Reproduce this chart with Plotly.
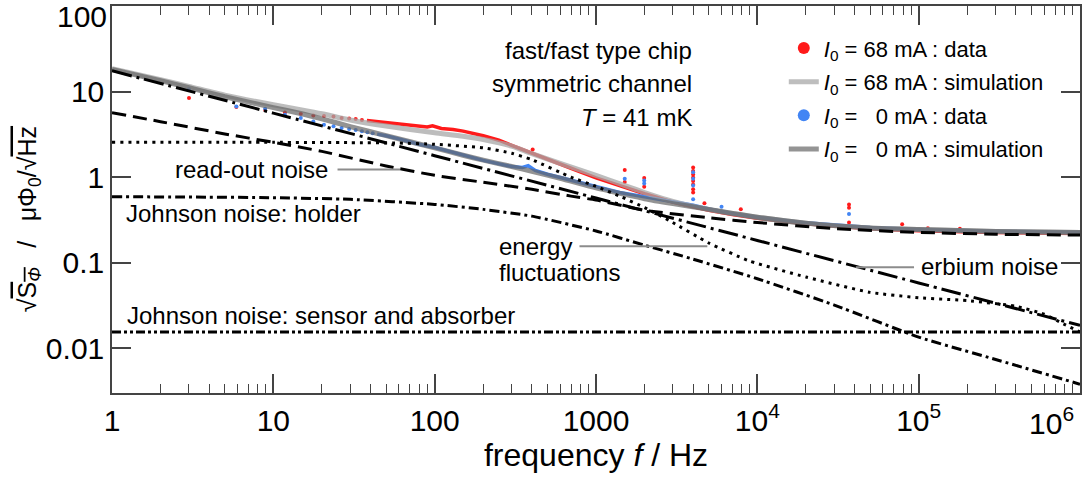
import numpy as np
import plotly.graph_objects as go

# ---------------- data ----------------
# noise contributions
readout_f = [1, 2, 5, 10, 20, 50, 100, 200, 400, 700, 1000, 2000, 5000, 1e4, 3e4, 1e5, 3e5, 1e6]
readout_v = [5.65, 4.45, 3.2, 2.55, 2.0, 1.35, 1.05, 0.87, 0.72, 0.6, 0.54, 0.41, 0.335, 0.295, 0.25, 0.226, 0.215, 0.21]

erbium_f = [1, 10, 100, 1000, 1e4, 1e5, 1e6]
erbium_v = [17.5, 5.6, 1.78, 0.57, 0.182, 0.058, 0.0185]

holder_f = [1, 3, 10, 30, 100, 200, 400, 1000, 2000, 4000, 1e4, 3e4, 1e5, 3e5, 1e6]
holder_v = [0.59, 0.585, 0.575, 0.55, 0.48, 0.42, 0.35, 0.235, 0.16, 0.11, 0.065, 0.032, 0.0135, 0.0074, 0.0038]

sensor_f = [1, 1e6]
sensor_v = [0.0155, 0.0155]

energy_f = [1, 10, 30, 60, 100, 200, 300, 400, 700, 1000, 1400, 2000, 2850, 5000, 8900, 2e4, 5e4, 1e5, 2e5, 4e5, 6e5, 8e5, 1e6]
energy_v = [2.55, 2.55, 2.53, 2.5, 2.42, 2.2, 1.9, 1.6, 1.0, 0.78, 0.6, 0.44, 0.31, 0.17, 0.105, 0.068, 0.045, 0.039, 0.036, 0.031, 0.025, 0.019, 0.0155]

# simulations
sim_f = [1, 2, 3, 5, 10, 15, 20, 30, 50, 100, 150, 200, 300, 400, 600, 1000, 1500, 2000, 3000, 5000, 1e4, 2e4, 5e4, 1e5, 3e5, 1e6]
sim68_v = [18.5, 13.8, 11.5, 9.1, 7.0, 6.1, 5.5, 4.65, 3.95, 3.3, 3.0, 2.75, 2.3, 1.88, 1.45, 1.05, 0.8, 0.66, 0.52, 0.42, 0.34, 0.29, 0.255, 0.244, 0.232, 0.225]
sim0_v = [18.2, 13.4, 11.1, 8.7, 6.5, 5.5, 4.8, 3.9, 3.05, 2.2, 1.8, 1.58, 1.33, 1.17, 0.97, 0.75, 0.63, 0.56, 0.49, 0.42, 0.34, 0.29, 0.255, 0.244, 0.232, 0.225]

# measured data, I0 = 68 mA
red_sparse_f = [3, 5.9, 8.9, 11.8, 14.8, 17.7, 20.6, 23.6, 26.5, 29.5, 32.4, 35.4]
red_sparse_v = [8.4, 6.6, 6.1, 5.7, 5.5, 5.26, 5.18, 5.1, 4.9, 4.83, 4.77, 4.65]
red_dense_f = [38, 45, 50, 60, 70, 80, 90, 97, 103, 110, 130, 150, 200, 250, 300, 400, 500, 700, 1000, 1500, 2000, 3000, 4000, 5000, 7000, 1e4, 2e4, 5e4, 1e5, 3e5, 1e6]
red_dense_v = [4.6, 4.45, 4.4, 4.25, 4.1, 3.95, 3.85, 3.98, 3.85, 3.7, 3.6, 3.45, 3.05, 2.7, 2.35, 1.92, 1.62, 1.27, 0.98, 0.76, 0.64, 0.51, 0.45, 0.41, 0.365, 0.33, 0.285, 0.25, 0.237, 0.226, 0.22]
red_spike_f = [405, 1507, 1507, 1990, 1990, 4000, 4000, 4000, 4000, 4000, 4000, 4000, 4000, 4700, 7900, 37000, 37000, 37000, 79000, 114000, 180000]
red_spike_v = [2.1, 1.21, 0.875, 0.98, 0.77, 1.30, 1.18, 1.075, 0.99, 0.90, 0.82, 0.72, 0.66, 0.495, 0.42, 0.48, 0.44, 0.295, 0.282, 0.253, 0.25]

# measured data, I0 = 0 mA
blue_sparse_f = [3, 5.9, 8.9, 11.8, 14.8, 17.7, 20.6, 23.6, 26.5, 29.5, 32.4, 35.4, 38.3, 41.3]
blue_sparse_v = [10.8, 6.7, 6.3, 5.35, 4.9, 4.48, 4.1, 3.92, 3.75, 3.65, 3.55, 3.43, 3.35, 3.26]
blue_dense_f = [44, 50, 60, 80, 100, 150, 200, 300, 350, 380, 420, 500, 700, 1000, 1400, 2000, 3000, 4000, 5000, 7000, 1e4, 2e4, 5e4, 1e5, 3e5, 1e6]
blue_dense_v = [3.18, 3.05, 2.8, 2.42, 2.22, 1.8, 1.57, 1.33, 1.3, 1.36, 1.2, 1.08, 0.92, 0.77, 0.66, 0.59, 0.52, 0.47, 0.425, 0.375, 0.34, 0.292, 0.257, 0.245, 0.233, 0.227]
blue_spike_f = [1507, 1990, 1990, 4000, 4000, 4000, 4000, 6000, 37000]
blue_spike_v = [0.96, 0.915, 0.845, 1.14, 0.96, 0.80, 0.55, 0.45, 0.37]

# axis ticks
x_tickvals = [1, 10, 100, 1000, 1e4, 1e5]
x_ticktext = ["1", "10", "100", "1000", "10<sup>4</sup>", "10<sup>5</sup>"]
y_tickvals = [0.01, 0.1, 1, 10, 100]
y_ticktext = ["0.01", "0.1", "1", "10", ""]

RED = "#ff1a1a"
BLUE = "#4285f4"
LGRAY = "#a8a8a8"
DGRAY = "#666666"
FONT = "Liberation Sans, Arial, sans-serif"

fig = go.Figure()

# ---- data: I0 = 68 mA (red)
fig.add_trace(go.Scatter(x=red_dense_f, y=red_dense_v, mode="lines", line=dict(color=RED, width=3.5),
                         legendgroup="r", showlegend=False, hoverinfo="skip"))
fig.add_trace(go.Scatter(x=red_spike_f, y=red_spike_v, mode="markers", marker=dict(color=RED, size=4),
                         legendgroup="r", showlegend=False))
fig.add_trace(go.Scatter(x=red_sparse_f, y=red_sparse_v, mode="markers", marker=dict(color=RED, size=4),
                         legendgroup="r", legendrank=1,
                         name="<i>I</i><sub>0</sub> = 68 mA : data"))
# ---- data: I0 = 0 mA (blue)
fig.add_trace(go.Scatter(x=blue_dense_f, y=blue_dense_v, mode="lines", line=dict(color=BLUE, width=3.5),
                         legendgroup="b", showlegend=False, hoverinfo="skip"))
fig.add_trace(go.Scatter(x=blue_spike_f, y=blue_spike_v, mode="markers", marker=dict(color=BLUE, size=4),
                         legendgroup="b", showlegend=False))
fig.add_trace(go.Scatter(x=blue_sparse_f, y=blue_sparse_v, mode="markers", marker=dict(color=BLUE, size=4),
                         legendgroup="b", legendrank=3,
                         name="<i>I</i><sub>0</sub> = \u20070 mA : data"))

# ---- simulations
fig.add_trace(go.Scatter(x=sim_f, y=sim68_v, mode="lines", line=dict(color=LGRAY, width=5, shape="spline", smoothing=0.6),
                         opacity=0.75, legendgroup="s68", legendrank=2,
                         name="<i>I</i><sub>0</sub> = 68 mA : simulation"))
fig.add_trace(go.Scatter(x=sim_f, y=sim0_v, mode="lines", line=dict(color=DGRAY, width=5, shape="spline", smoothing=0.6),
                         opacity=0.7, legendgroup="s0", legendrank=4,
                         name="<i>I</i><sub>0</sub> = \u20070 mA : simulation"))

# ---- noise contributions (black)
comp = [
    (readout_f, readout_v, "14px,7px", "read-out noise"),
    (erbium_f, erbium_v, "20px,5px,3px,5px", "erbium noise"),
    (holder_f, holder_v, "10px,4px,3px,4px", "Johnson noise: holder"),
    (sensor_f, sensor_v, "9px,3px,3px,3px,3px,3px", "Johnson noise: sensor and absorber"),
    (energy_f, energy_v, "3px,5px", "energy fluctuations"),
]
for f, v, dash, nm in comp:
    fig.add_trace(go.Scatter(x=f, y=v, mode="lines", name=nm, showlegend=False,
                             line=dict(color="black", width=3, dash=dash, shape="spline", smoothing=0.5)))

lg = np.log10
ann_font = dict(family=FONT, size=24, color="black")
annotations = [
    dict(x=lg(4070), y=1.485, text="fast/fast type chip", xanchor="right"),
    dict(x=lg(4070), y=1.10, text="symmetric channel", xanchor="right"),
    dict(x=lg(4070), y=0.70, text="<i>T</i> = 41 mK", xanchor="right"),
    dict(x=lg(22.5), y=0.09, text="read-out noise", xanchor="right"),
    dict(x=lg(1.18), y=-0.43, text="Johnson noise: holder", xanchor="left"),
    dict(x=lg(245), y=-0.81, text="energy", xanchor="left"),
    dict(x=lg(245), y=-1.12, text="fluctuations", xanchor="left"),
    dict(x=lg(1.0e5), y=-1.05, text="erbium noise", xanchor="left"),
    dict(x=lg(1.2), y=-1.615, text="Johnson noise: sensor and absorber", xanchor="left"),
]
for a in annotations:
    a.update(xref="x", yref="y", showarrow=False, yanchor="middle", font=ann_font)

# tick labels at the plot edges (shifted inwards like the reference)
annotations.append(dict(x=1, y=-0.017, xref="paper", yref="paper", text="10<sup>6</sup>", showarrow=False,
                        xanchor="right", yanchor="top", xshift=-4,
                        font=dict(family=FONT, size=30, color="black")))
annotations.append(dict(x=0, y=2, xref="paper", yref="y", text="100", showarrow=False,
                        xanchor="right", yanchor="top", xshift=-3, yshift=8,
                        font=dict(family=FONT, size=30, color="black")))
# y axis title (rotated)
annotations.append(dict(x=-0.105, y=0.45, xref="paper", yref="paper", textangle=-90, showarrow=False,
                        text="\u221a<span style='text-decoration:overline'>S<sub><i>\u03a6</i></sub></span>"
                             "\u2002 /\u2002 \u03bc\u03a6<sub>0</sub>/\u221a<span style='text-decoration:overline'>Hz</span>",
                        font=dict(family=FONT, size=25, color="black")))
fig.update_layout(annotations=annotations)

# pointer lines (gray)
shapes = []
for f0, f1, yv in [(25, 61, 1.23), (790, 4900, 0.156), (40800, 93600, 0.0885)]:
    shapes.append(dict(type="line", xref="x", yref="y", x0=f0, x1=f1, y0=yv, y1=yv,
                       line=dict(color="#8c8c8c", width=2)))
fig.update_layout(shapes=shapes)

minor_x = [m * 10 ** k for k in range(0, 6) for m in range(2, 10)]

fig.update_xaxes(type="log", range=[0, 6], tickvals=x_tickvals, ticktext=x_ticktext,
                 ticks="inside", ticklen=19, tickwidth=1.5, tickcolor="#444",
                 showline=True, linecolor="#444", linewidth=1.5, mirror="allticks",
                 showgrid=False, zeroline=False,
                 minor=dict(tickvals=minor_x, ticks="inside", ticklen=9, tickwidth=1.2, tickcolor="#444", showgrid=False),
                 tickfont=dict(family=FONT, size=30, color="black"),
                 title=dict(text="frequency <i>f</i> / Hz", font=dict(family=FONT, size=32, color="black"), standoff=6))
fig.update_yaxes(type="log", range=[np.log10(0.003), 2], tickvals=y_tickvals, ticktext=y_ticktext,
                 ticks="inside", ticklen=19, tickwidth=1.5, tickcolor="#444",
                 showline=True, linecolor="#444", linewidth=1.5, mirror="allticks",
                 showgrid=False, zeroline=False,
                 tickfont=dict(family=FONT, size=30, color="black"))

fig.update_layout(
    width=1087, height=484,
    margin=dict(l=112, r=7, t=6, b=91, autoexpand=False),
    plot_bgcolor="white", paper_bgcolor="white",
    font=dict(family=FONT, color="black"),
    legend=dict(x=0.694, y=0.945, xanchor="left", yanchor="top", bgcolor="rgba(0,0,0,0)",
                font=dict(family=FONT, size=22, color="black"), itemsizing="constant",
                tracegroupgap=2, traceorder="grouped"),
    showlegend=True,
)

fig.write_html("out.html", config={"displayModeBar": False},
               post_script="document.body.style.margin='0px';")
